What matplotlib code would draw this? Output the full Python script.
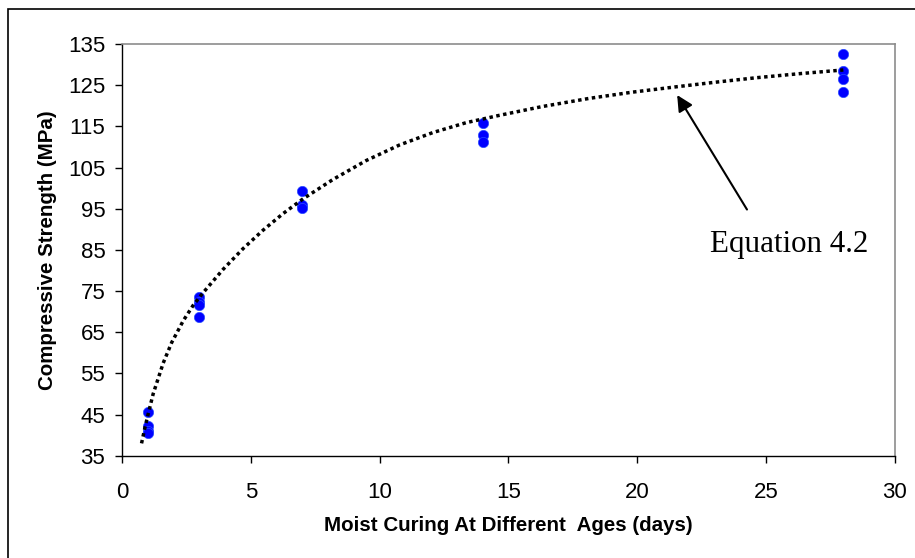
import matplotlib
matplotlib.use("Agg")
import matplotlib.pyplot as plt
from matplotlib.patches import Rectangle

# measured strengths (MPa) at each curing age (days)
days = [1, 1, 1, 1, 3, 3, 3, 3, 7, 7, 7, 14, 14, 14, 28, 28, 28, 28]
strength = [45.5, 42.3, 41.0, 40.4, 73.5, 72.4, 71.6, 68.7, 99.2, 96.0, 95.2,
            115.7, 113.0, 111.1, 132.5, 128.4, 126.5, 123.3]

# Equation 4.2 curve
curve_days = [0.76, 0.89, 1.0, 1.21, 1.6, 1.93, 2.38, 2.76, 3.15, 3.93, 4.70,
              5.48, 6.25, 7.03, 8.19, 9.48, 10.78, 12.07, 13.36, 14.59, 16.3,
              18.14, 19.8, 21.5, 23.0, 24.6, 26.3, 28.0]
curve_vals = [38.0, 41.8, 44.7, 50.0, 57.5, 62.5, 67.8, 71.5, 74.6, 80.3, 85.3,
              89.8, 93.8, 97.4, 102.1, 106.7, 110.5, 113.5, 115.9, 117.6, 119.8,
              121.8, 123.3, 124.6, 125.7, 126.8, 127.8, 128.7]

xticks = [0, 5, 10, 15, 20, 25, 30]
yticks = [35, 45, 55, 65, 75, 85, 95, 105, 115, 125, 135]

plt.rcParams['font.family'] = ['Liberation Sans', 'DejaVu Sans']

fig = plt.figure(figsize=(9.15, 5.58), dpi=100)
ax = fig.add_axes([0.1333, 0.1833, 0.8447, 0.7378])

ax.plot(curve_days, curve_vals, color='black', lw=2.5,
        linestyle=(0, (1, 1.0)), dash_capstyle='butt', zorder=3)
ax.scatter(days, strength, s=55, color='#0000ff', edgecolors='#2a4dff',
           linewidths=0.5, zorder=2)

ax.set_xlim(0, 30)
ax.set_ylim(35, 135)
ax.set_xticks(xticks)
ax.set_yticks(yticks)
ax.tick_params(labelsize=16, direction='out', length=5, width=1)
ax.tick_params(axis='x', pad=14)
ax.tick_params(axis='y', pad=7)

for s in ['left', 'bottom']:
    ax.spines[s].set_color('black')
    ax.spines[s].set_linewidth(1)
for s in ['top', 'right']:
    ax.spines[s].set_color('#8c8c8c')
    ax.spines[s].set_linewidth(1.2)

ax.set_xlabel('Moist Curing At Different  Ages (days)', fontsize=14.8,
              fontweight='bold', labelpad=9)
ax.set_ylabel('Compressive Strength (MPa)', fontsize=14.8,
              fontweight='bold', labelpad=8)

ax.annotate('', xy=(21.55, 122.6), xytext=(24.26, 94.8),
            arrowprops=dict(arrowstyle='-|>', color='black', lw=1.5,
                            mutation_scale=24, shrinkA=0, shrinkB=0))
ax.text(22.82, 84.6, 'Equation 4.2', fontsize=22.3,
        family='Liberation Serif', ha='left', va='baseline')

# outer frame round the chart
fig.patches.append(Rectangle((8 / 915, -0.1), 1.1, 1 - 9 / 558 + 0.1,
                             transform=fig.transFigure, fill=False,
                             edgecolor='black', lw=1.2))

fig.savefig('out.png', dpi=100)
